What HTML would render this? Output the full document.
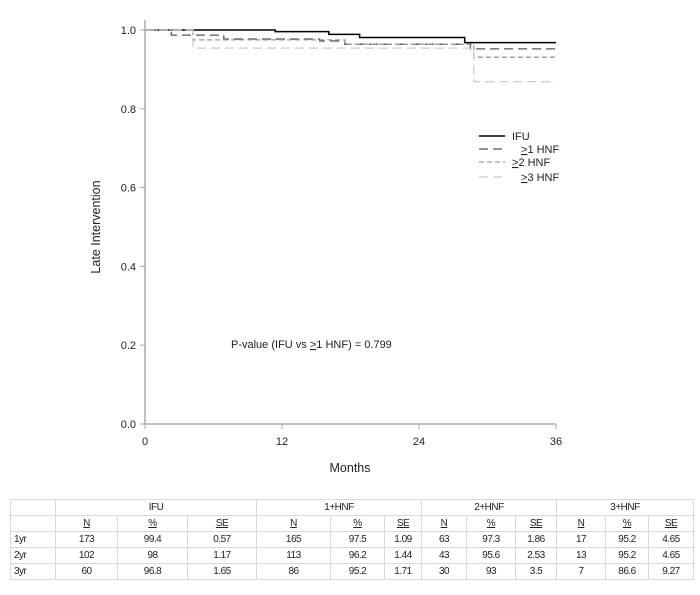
<!DOCTYPE html>
<html><head><meta charset="utf-8"><style>
body{margin:0;width:700px;height:595px;background:#fff;font-family:"Liberation Sans",sans-serif;overflow:hidden}
table{position:absolute;left:10px;top:499px;border-collapse:collapse;font-family:"Liberation Sans Narrow","Liberation Sans",sans-serif;font-size:10px;color:#222;letter-spacing:-0.5px}
td{border:1px solid #d8d8d8;height:15px;padding:0;text-align:center}
td.l{text-align:left;padding-left:3px}
u{text-decoration:underline}
</style></head><body>
<svg id="chart" width="700" height="490" style="position:absolute;left:0;top:0">
<g id="axes"></g>
<g id="series"></g>
<g font-size="11" fill="#222">
<line x1="479" y1="136" x2="505" y2="136" stroke="#000" stroke-width="1.5"/>
<text x="512" y="140">IFU</text>
<line x1="479" y1="149" x2="505" y2="149" stroke="#555" stroke-width="1.3" stroke-dasharray="9,5"/>
<text x="521" y="153"><tspan text-decoration="underline">&gt;</tspan>1 HNF</text>
<line x1="479" y1="162" x2="505" y2="162" stroke="#999" stroke-width="1.3" stroke-dasharray="5,3"/>
<text x="512" y="166"><tspan text-decoration="underline">&gt;</tspan>2 HNF</text>
<line x1="479" y1="177" x2="505" y2="177" stroke="#ccc" stroke-width="1.3" stroke-dasharray="9,5"/>
<text x="521" y="181"><tspan text-decoration="underline">&gt;</tspan>3 HNF</text>
</g>
<text x="231" y="348" font-size="11" fill="#222">P-value (IFU vs <tspan text-decoration="underline">&gt;</tspan>1 HNF) = 0.799</text>
<text transform="translate(100,227) rotate(-90)" text-anchor="middle" font-size="12.5" fill="#222">Late Intervention</text>
<text x="350" y="472" text-anchor="middle" font-size="12.5" fill="#222">Months</text>
</svg>
<table>
<tr><td style="width:44px"></td><td colspan="3">IFU</td><td colspan="3">1+HNF</td><td colspan="3">2+HNF</td><td colspan="3">3+HNF</td></tr>
<tr><td></td><td style="width:61px"><u>N</u></td><td style="width:69px"><u>%</u></td><td style="width:68px"><u>SE</u></td><td style="width:73px"><u>N</u></td><td style="width:53px"><u>%</u></td><td style="width:36px"><u>SE</u></td><td style="width:44px"><u>N</u></td><td style="width:48px"><u>%</u></td><td style="width:40px"><u>SE</u></td><td style="width:48px"><u>N</u></td><td style="width:42px"><u>%</u></td><td style="width:44px"><u>SE</u></td></tr>
<tr><td class="l">1yr</td><td>173</td><td>99.4</td><td>0.57</td><td>165</td><td>97.5</td><td>1.09</td><td>63</td><td>97.3</td><td>1.86</td><td>17</td><td>95.2</td><td>4.65</td></tr>
<tr><td class="l">2yr</td><td>102</td><td>98</td><td>1.17</td><td>113</td><td>96.2</td><td>1.44</td><td>43</td><td>95.6</td><td>2.53</td><td>13</td><td>95.2</td><td>4.65</td></tr>
<tr><td class="l">3yr</td><td>60</td><td>96.8</td><td>1.65</td><td>86</td><td>95.2</td><td>1.71</td><td>30</td><td>93</td><td>3.5</td><td>7</td><td>86.6</td><td>9.27</td></tr>
</table>
<script>
const xTicks=[0,12,24,36];
const yTicks=[0,0.2,0.4,0.6,0.8,1.0];
const seriesNames=["IFU","HNF1","HNF2","HNF3"];
const ifuTimes=[0,11.4,16.1,18.8,28.0];
const ifuVals=[1,0.996,0.989,0.981,0.968];
const hnf1Times=[0,2.3,6.9,15.3,17.5,28.5];
const hnf1Vals=[1,0.987,0.977,0.972,0.964,0.952];
const hnf2Times=[0,4.2,17.5,28.8];
const hnf2Vals=[1,0.975,0.964,0.931];
const hnf3Times=[0,4.2,28.8];
const hnf3Vals=[1,0.954,0.869];
const maxTime=36;
const NS="http://www.w3.org/2000/svg";
function xs(m){return 145+m*(411/36);}
function ys(v){return 424-v*394;}
const ax=document.getElementById('axes');
function mk(t,a,p){const e=document.createElementNS(NS,t);for(const k in a)e.setAttribute(k,a[k]);p.appendChild(e);return e;}
const xl=mk('line',{x1:145,y1:424,x2:556,y2:424,stroke:'#aaa','stroke-width':1.5},ax);


const yl=mk('line',{x1:145,y1:20,x2:145,y2:424,stroke:'#aaa','stroke-width':1.5},ax);


xTicks.forEach(t=>{mk('line',{x1:xs(t),y1:424,x2:xs(t),y2:429,stroke:'#aaa'},ax);
const tx=mk('text',{x:xs(t),y:445,'text-anchor':'middle','font-size':11,fill:'#222'},ax);tx.textContent=t;

});
yTicks.forEach(t=>{mk('line',{x1:140,y1:ys(t),x2:145,y2:ys(t),stroke:'#aaa'},ax);
const tx=mk('text',{x:136,y:ys(t)+4,'text-anchor':'end','font-size':11,fill:'#222'},ax);tx.textContent=t.toFixed(1);

});
const sg=document.getElementById('series');
const styles=[{stroke:'#000',w:1.5,d:''},{stroke:'#555',w:1.3,d:'9,5'},{stroke:'#999',w:1.3,d:'5,3'},{stroke:'#ccc',w:1.3,d:'9,5'}];
[[ifuTimes,ifuVals],[hnf1Times,hnf1Vals],[hnf2Times,hnf2Vals],[hnf3Times,hnf3Vals]].forEach((s,i)=>{
 const [T,V]=s;let d='M'+xs(T[0])+','+ys(V[0]);
 for(let k=1;k<T.length;k++){d+=' H'+xs(T[k])+' V'+ys(V[k]);}
 d+=' H'+xs(maxTime);
 const p=mk('path',{d:d,fill:'none',stroke:styles[i].stroke,'stroke-width':styles[i].w,'stroke-dasharray':styles[i].d},sg);
 
 
});
</script>
</body></html>
